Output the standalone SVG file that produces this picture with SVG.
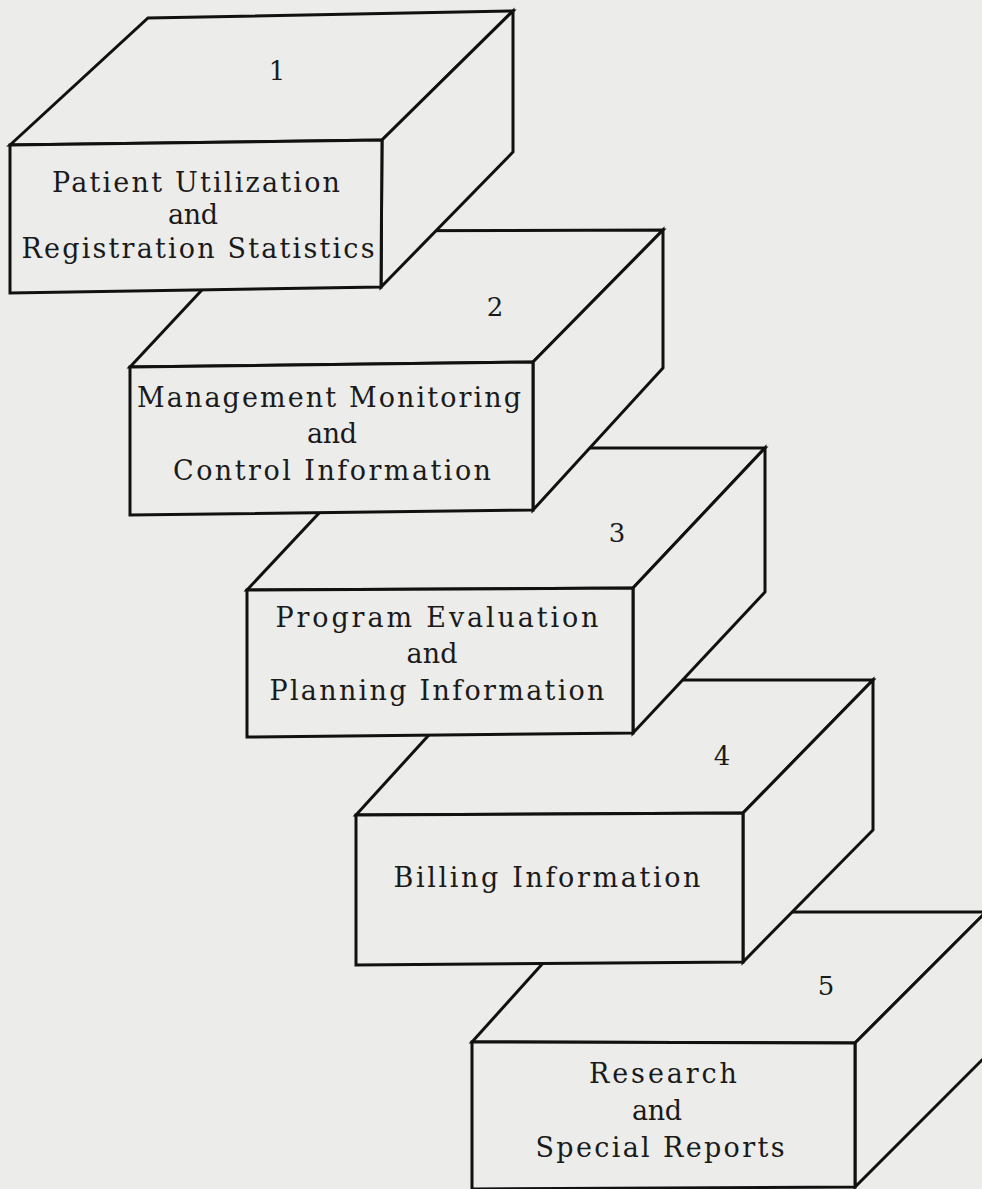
<svg xmlns="http://www.w3.org/2000/svg" width="982" height="1189" viewBox="0 0 982 1189">
<style>
.face{fill:#ececea;stroke:#111;stroke-width:3;stroke-linejoin:miter}
.lbl{font-family:"DejaVu Serif","Liberation Serif",serif;font-size:27px;fill:#1a1a1a;text-anchor:middle}
.num{font-family:"DejaVu Serif","Liberation Serif",serif;font-size:26px;fill:#1a1a1a;text-anchor:middle}
</style>
<rect x="0" y="0" width="982" height="1189" fill="#ececea"/>
<g id="box5">
<polygon class="face" points="472,1042 589,912 986,912 855,1043"/>
<polygon class="face" points="855,1043 986,912 986,1056 855,1187"/>
<polygon class="face" points="472,1042 855,1043 855,1187 472,1189"/>
<text class="num" x="826" y="995">5</text>
<text class="lbl" x="663" y="1083" textLength="148" lengthAdjust="spacing">Research</text>
<text class="lbl" x="657" y="1120" textLength="50" lengthAdjust="spacing">and</text>
<text class="lbl" x="660" y="1157" textLength="249" lengthAdjust="spacing">Special Reports</text>
</g>
<g id="box4">
<polygon class="face" points="356,815 479,680 873,680 743,813"/>
<polygon class="face" points="743,813 873,680 873,830 743,962"/>
<polygon class="face" points="356,815 743,813 743,962 356,965"/>
<text class="num" x="722" y="765">4</text>
<text class="lbl" x="547" y="887" textLength="307" lengthAdjust="spacing">Billing Information</text>
</g>
<g id="box3">
<polygon class="face" points="247,590 380,448 765,448 633,588"/>
<polygon class="face" points="633,588 765,448 765,592 633,733"/>
<polygon class="face" points="247,590 633,588 633,733 247,737"/>
<text class="num" x="617" y="542">3</text>
<text class="lbl" x="437" y="627" textLength="323" lengthAdjust="spacing">Program Evaluation</text>
<text class="lbl" x="432" y="663" textLength="51" lengthAdjust="spacing">and</text>
<text class="lbl" x="437" y="700" textLength="335" lengthAdjust="spacing">Planning Information</text>
</g>
<g id="box2">
<polygon class="face" points="130,367 257,231 663,230 533,362"/>
<polygon class="face" points="533,362 663,230 663,368 533,510"/>
<polygon class="face" points="130,367 533,362 533,510 130,515"/>
<text class="num" x="495" y="316">2</text>
<text class="lbl" x="329" y="407" textLength="384" lengthAdjust="spacing">Management Monitoring</text>
<text class="lbl" x="332" y="443" textLength="50" lengthAdjust="spacing">and</text>
<text class="lbl" x="332" y="480" textLength="318" lengthAdjust="spacing">Control Information</text>
</g>
<g id="box1">
<polygon class="face" points="10,145 148,18 513,11 382,140"/>
<polygon class="face" points="382,140 513,11 513,152 381,287"/>
<polygon class="face" points="10,145 382,140 381,287 10,293"/>
<text class="num" x="277" y="80">1</text>
<text class="lbl" x="196" y="192" textLength="288" lengthAdjust="spacing">Patient Utilization</text>
<text class="lbl" x="193" y="224" textLength="50" lengthAdjust="spacing">and</text>
<text class="lbl" x="198" y="258" textLength="353" lengthAdjust="spacing">Registration Statistics</text>
</g>
</svg>
